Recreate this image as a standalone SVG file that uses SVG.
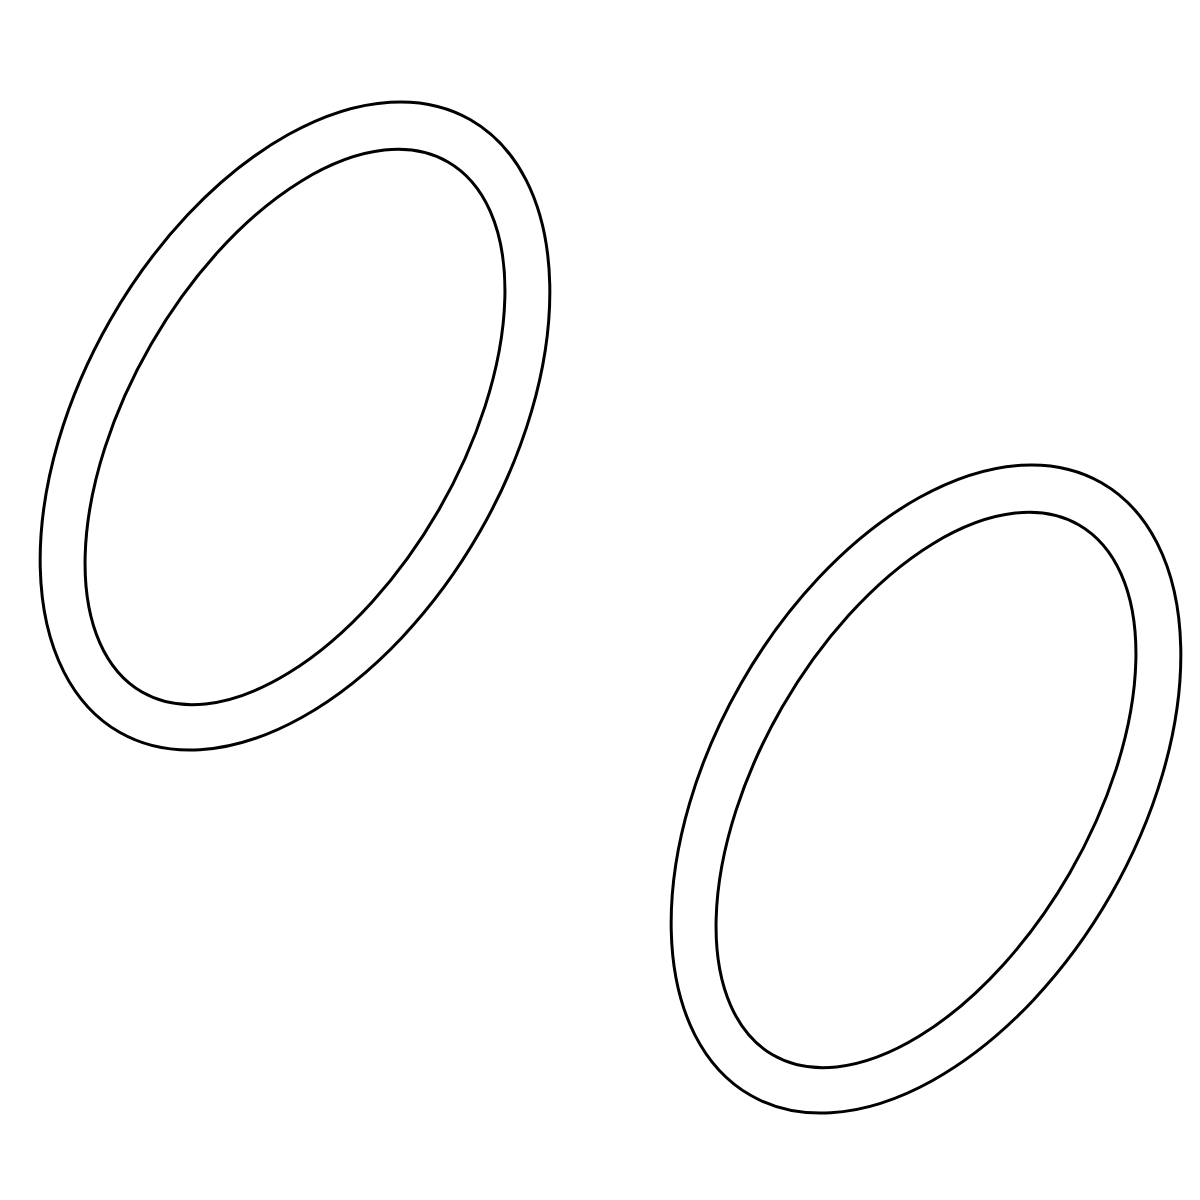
<svg xmlns="http://www.w3.org/2000/svg" width="1200" height="1200" viewBox="0 0 1200 1200">
<style>
.ring{fill:none;stroke:#000;stroke-width:3}
</style>
<rect width="1200" height="1200" fill="#fff"/>
<g id="ring1">
<ellipse class="ring" cx="295" cy="426" rx="353" ry="213" transform="rotate(-60.2 295 426)"/>
<ellipse class="ring" cx="295" cy="427" rx="306" ry="166" transform="rotate(-60 295 427)"/>
</g>
<g id="ring2">
<ellipse class="ring" cx="926" cy="789" rx="353" ry="213" transform="rotate(-60.2 926 789)"/>
<ellipse class="ring" cx="926" cy="790" rx="306" ry="166" transform="rotate(-60 926 790)"/>
</g>
</svg>
